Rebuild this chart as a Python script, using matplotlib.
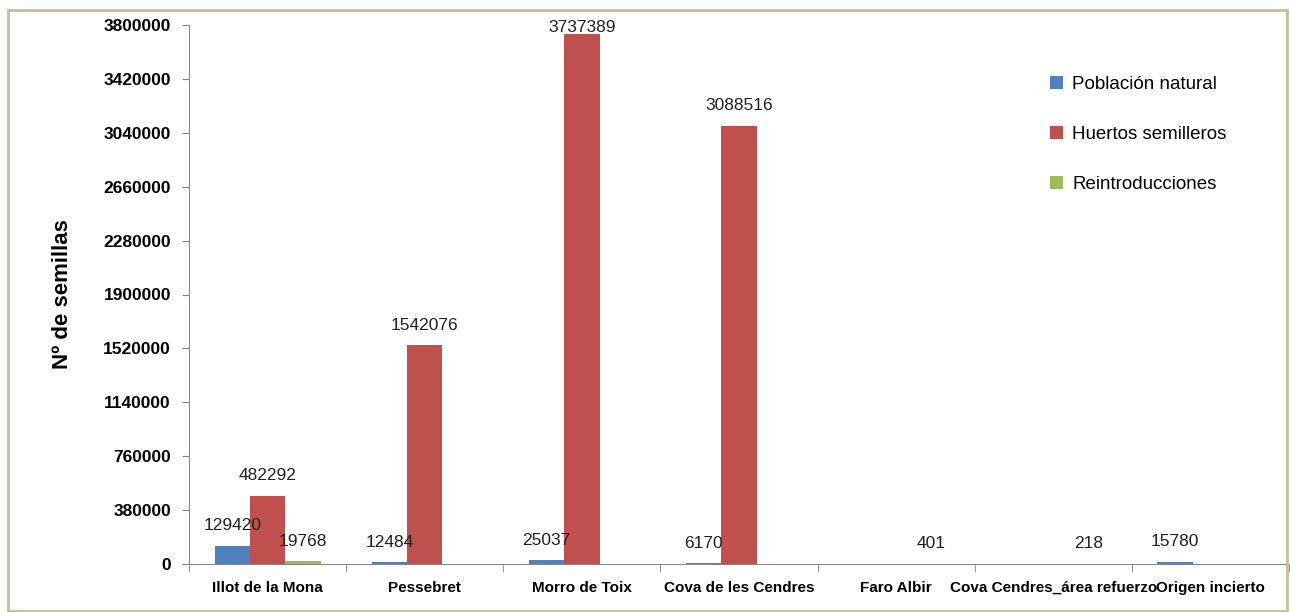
import numpy as np
import matplotlib.pyplot as plt
from matplotlib.patches import Rectangle

sitios = ['Illot de la Mona', 'Pessebret', 'Morro de Toix', 'Cova de les Cendres',
          'Faro Albir', 'Cova Cendres_área refuerzo', 'Origen incierto']
poblacion_natural = [129420, 12484, 25037, 6170, 0, 0, 15780]
huertos_semilleros = [482292, 1542076, 3737389, 3088516, 0, 0, 0]
reintroducciones = [19768, 0, 0, 0, 401, 218, 0]
series = ['Población natural', 'Huertos semilleros', 'Reintroducciones']
colores = ['#4F81BD', '#C0504D', '#9BBB59']
yticks = np.arange(0, 3800001, 380000)
ymax = 3800000

plt.rcParams['font.family'] = ['Liberation Sans', 'DejaVu Sans']

fig = plt.figure(figsize=(12.9, 6.12), dpi=100)
ax = fig.add_axes([189/1290, 1-564/612, 1100/1290, (564-25)/612])

x = np.arange(len(sitios))
w = 0.225
datos = [poblacion_natural, huertos_semilleros, reintroducciones]
for i, (vals, nombre, c) in enumerate(zip(datos, series, colores)):
    pos = x + (i - 1) * w
    ax.bar(pos, vals, w, color=c, label=nombre)
    for p, v in zip(pos, vals):
        if v > 0:
            # labels sit above bar, pushed down if they would leave the plot
            ax.text(p, min(v + 141000, ymax - 21000), str(v), ha='center', va='center',
                    fontsize=12.5, color='#222222')

ax.set_xlim(-0.5, len(sitios) - 0.5)
ax.set_ylim(0, ymax)
ax.set_yticks(yticks)
ax.set_yticklabels([str(t) for t in yticks], fontweight='bold', fontsize=12.5)
ax.set_xticks(x)
ax.set_xticklabels(sitios, fontweight='bold', fontsize=11)
ax.tick_params(axis='x', length=0, pad=12)
ax.set_xticks(np.arange(-0.5, len(sitios)), minor=True)
ax.tick_params(axis='x', which='minor', length=6, color='#888888')
ax.tick_params(axis='y', length=5, color='#888888', pad=8)
for s in ['top', 'right']:
    ax.spines[s].set_visible(False)
for s in ['left', 'bottom']:
    ax.spines[s].set_color('#888888')
ax.set_ylabel('Nº de semillas', fontweight='bold', fontsize=16, labelpad=22)

ax.legend(loc='upper left', bbox_to_anchor=(1033/1290, 1-59/612), bbox_transform=fig.transFigure,
          frameon=False, fontsize=13.5, handlelength=0.7, handleheight=0.7, labelspacing=1.75,
          handletextpad=0.5)

fig.patches.append(Rectangle((8/1290, 0.002), 1279/1290, 1-10/612-0.002, transform=fig.transFigure,
                             fill=False, edgecolor='#C9BE8E', linewidth=2))

fig.savefig('out.png', dpi=100)
